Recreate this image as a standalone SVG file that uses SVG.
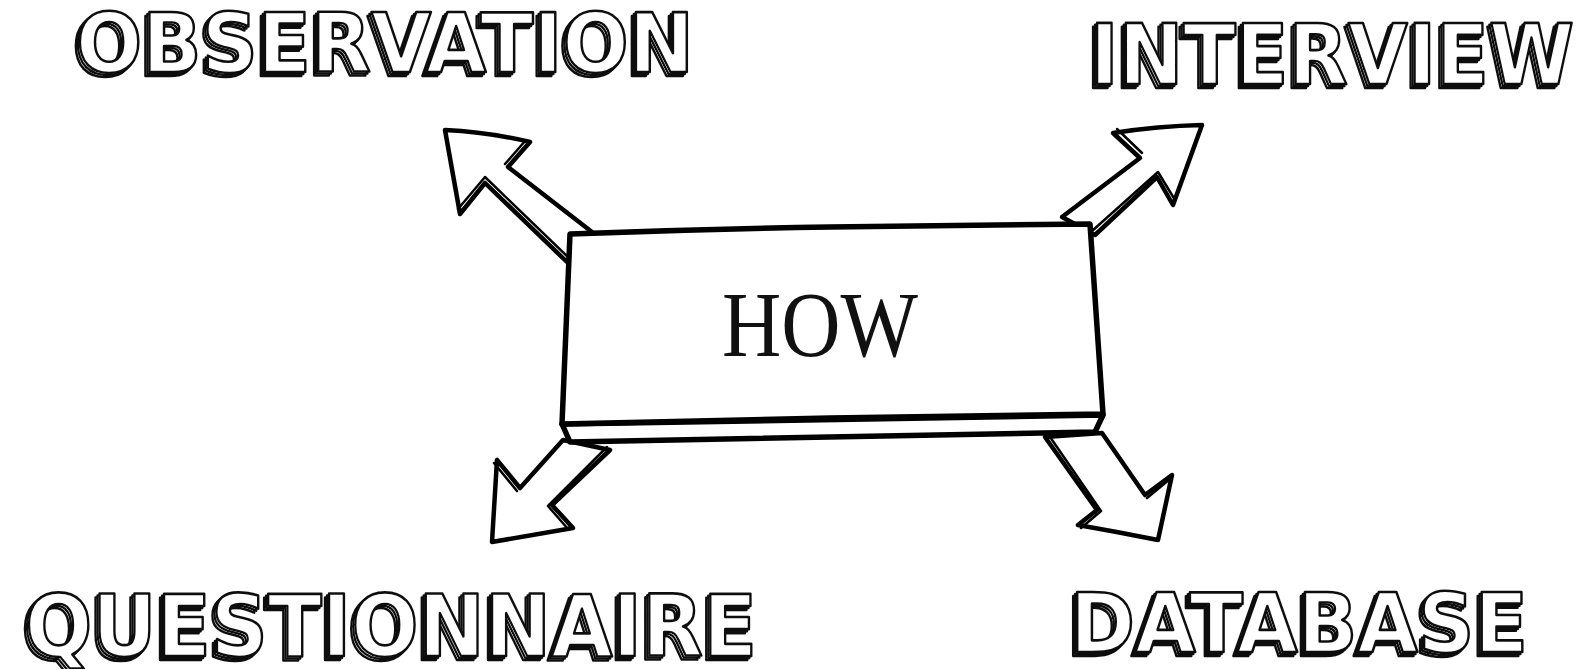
<svg xmlns="http://www.w3.org/2000/svg" width="1582" height="669" viewBox="0 0 1582 669">
<style>
.lbl{font-family:"DejaVu Sans",sans-serif;font-weight:bold;fill:#fff;stroke:#111;stroke-width:2.6;stroke-linejoin:round;filter:url(#depth)}
.arr{fill:#fff;stroke:#000;stroke-width:4.5;stroke-linejoin:round;stroke-linecap:round}
.dbl{fill:none;stroke:#000;stroke-width:2.5;stroke-linecap:round;stroke-linejoin:round}
.box{fill:#fff;stroke:#000;stroke-width:5.5;stroke-linejoin:round}
.how{font-family:"Liberation Serif",serif;font-size:94px;fill:#111}
</style>
<defs>
  <filter id="depth" x="-5%" y="-20%" width="110%" height="150%">
    <feOffset in="SourceGraphic" dx="-4" dy="4" result="o2"/>
    <feOffset in="SourceGraphic" dx="-2" dy="2" result="o1"/>
    <feMerge>
      <feMergeNode in="o2"/>
      <feMergeNode in="o1"/>
      <feMergeNode in="SourceGraphic"/>
    </feMerge>
  </filter>
</defs>
<rect width="1582" height="669" fill="#fff"/>
<g id="connectors">
  <g id="arrow-observation">
    <path class="arr" d="M592,232 L508,167 L530,142 Q488,132 445,130 L460,214 L485,183 L567,262 Z"/>
    <path class="dbl" d="M458,209 L485,177 L570,259 M505,164 L526,140"/>
  </g>
  <g id="arrow-interview">
    <path class="arr" d="M1062,217 L1140,158 L1113,133 Q1158,126 1202,125 L1173,205 L1157,177 L1095,235 Z"/>
    <path class="dbl" d="M1175,200 L1158,172 L1092,231 M1117,129 L1142,153"/>
  </g>
  <g id="arrow-questionnaire">
    <path class="arr" d="M563,440 L520,488 L497,460 L492,542 Q532,535 573,528 L552,505 L610,450 Z"/>
    <path class="dbl" d="M568,529 L548,506 L607,447 M494,463 L517,491"/>
  </g>
  <g id="arrow-database">
    <path class="arr" d="M1045,437 L1097,510 L1078,525 Q1118,532 1158,540 L1172,475 L1145,495 L1102,433 Z"/>
    <path class="dbl" d="M1048,434 L1101,511 L1081,528 M1170,479 L1147,498"/>
  </g>
</g>
<g id="node-how">
  <path class="box" d="M562,424 L570,442 Q830,438 1095,432 L1103,415 Z"/>
  <path class="box" d="M570,234 Q700,229 830,227 Q960,225 1090,224 L1103,414 Q960,416 830,418 Q700,421 562,424 Z"/>
  <text class="how" x="722" y="356" textLength="196" lengthAdjust="spacingAndGlyphs">HOW</text>
</g>
<g id="node-observation">
  <text class="lbl" x="76" y="72" font-size="82" textLength="618" lengthAdjust="spacingAndGlyphs">OBSERVATION</text>
</g>
<g id="node-interview">
  <text class="lbl" x="1090" y="84" font-size="84" textLength="484" lengthAdjust="spacingAndGlyphs">INTERVIEW</text>
</g>
<g id="node-questionnaire">
  <text class="lbl" x="25" y="656" font-size="86" textLength="732" lengthAdjust="spacingAndGlyphs">QUESTIONNAIRE</text>
</g>
<g id="node-database">
  <text class="lbl" x="1070" y="652" font-size="82" textLength="458" lengthAdjust="spacingAndGlyphs">DATABASE</text>
</g>
</svg>
